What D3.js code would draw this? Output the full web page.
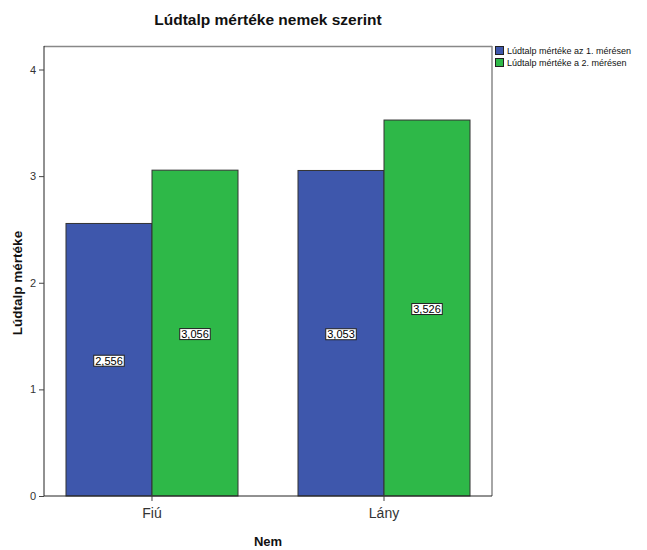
<!DOCTYPE html>
<html>
<head>
<meta charset="utf-8">
<script src="https://cdn.jsdelivr.net/npm/d3@7"></script>
<style>
  body { margin: 0; background: #fff; }
  svg { display: block; font-family: Arial, "Liberation Sans", sans-serif; }
</style>
</head>
<body>
<svg id="chart" width="647" height="550"></svg>
<script>
const categories = ["Fiú", "Lány"];
const seriesNames = ["Lúdtalp mértéke az 1. mérésen", "Lúdtalp mértéke a 2. mérésen"];
const measure1 = [2.556, 3.053];
const measure2 = [3.056, 3.526];
const yTicks = [0, 1, 2, 3, 4];
const colors = ["#3e57ac", "#2eb848"];
const title = "Lúdtalp mértéke nemek szerint";
const yTitle = "Lúdtalp mértéke";
const xTitle = "Nem";

const svg = d3.select("#chart");
const plot = { left: 44, right: 492, top: 46, bottom: 496 };

const x0 = d3.scaleBand().domain(categories).range([plot.left, plot.right])
  .paddingInner(0.2586).paddingOuter(0.0948);
const x1 = d3.scaleBand().domain([0, 1]).range([0, x0.bandwidth()]);
const y = d3.scaleLinear().domain([0, 4]).range([plot.bottom, 69.5]);

const fmt = v => d3.format(".3f")(v).replace(".", ",");

// title
svg.append("text").attr("x", 268).attr("y", 25).attr("text-anchor", "middle")
  .attr("font-size", 15.5).attr("font-weight", "bold").attr("fill", "#111").text(title);

// frame (top & right grey)
svg.append("line").attr("x1", plot.left).attr("x2", plot.right).attr("y1", plot.top + 0.5).attr("y2", plot.top + 0.5)
  .attr("stroke", "#888").attr("stroke-width", 1.5);
svg.append("line").attr("x1", plot.right).attr("x2", plot.right).attr("y1", plot.top).attr("y2", plot.bottom)
  .attr("stroke", "#888").attr("stroke-width", 1.5);

// bars
const data = categories.map((c, i) => ({ cat: c, vals: [measure1[i], measure2[i]] }));
const groups = svg.append("g").selectAll("g").data(data).join("g")
  .attr("transform", d => `translate(${x0(d.cat)},0)`);
groups.selectAll("rect").data(d => d.vals.map((v, k) => ({ v, k }))).join("rect")
  .attr("x", d => x1(d.k)).attr("width", x1.bandwidth())
  .attr("y", d => y(d.v)).attr("height", d => y(0) - y(d.v))
  .attr("fill", d => colors[d.k]).attr("stroke", "#333").attr("stroke-width", 1);

// value labels
groups.each(function(d) {
  const g = d3.select(this);
  d.vals.forEach((v, k) => {
    const cx = x1(k) + x1.bandwidth() / 2;
    const cy = (y(v) + y(0)) / 2 + 1;
    const lab = g.append("g");
    const t = lab.append("text").attr("x", cx).attr("y", cy + 4).attr("text-anchor", "middle")
      .attr("font-size", 11).attr("fill", "#000").text(fmt(v));
    const bb = t.node().getBBox();
    lab.insert("rect", "text").attr("x", bb.x - 1.5).attr("y", bb.y + 0.5).attr("width", bb.width + 3).attr("height", bb.height - 1)
      .attr("fill", "#fff").attr("stroke", "#222").attr("stroke-width", 1);
  });
});

// y axis
const yAxis = svg.append("g").attr("transform", `translate(${plot.left},0)`)
  .call(d3.axisLeft(y).tickValues(yTicks).tickSize(5).tickPadding(3).tickFormat(d3.format("d")));
yAxis.select(".domain").attr("stroke", "#222").attr("d", `M0,${plot.top}V${plot.bottom}`);
yAxis.selectAll(".tick line").attr("stroke", "#444");
yAxis.selectAll(".tick text").attr("font-size", 11).attr("fill", "#333").attr("font-family", "Arial, 'Liberation Sans', sans-serif");

// x axis
const xAxis = svg.append("g").attr("transform", `translate(0,${plot.bottom})`)
  .call(d3.axisBottom(x0).tickSize(6).tickPadding(6));
xAxis.select(".domain").attr("stroke", "#222").attr("d", `M${plot.left},0H${plot.right}`);
xAxis.selectAll(".tick line").attr("stroke", "#444").attr("transform", "translate(0,-1)");
xAxis.selectAll(".tick text").attr("font-size", 14).attr("fill", "#333").attr("font-family", "Arial, 'Liberation Sans', sans-serif");

// axis titles
svg.append("text").attr("transform", `translate(22,283) rotate(-90)`).attr("text-anchor", "middle")
  .attr("font-size", 13.5).attr("font-weight", "bold").attr("fill", "#111").text(yTitle);
svg.append("text").attr("x", 268).attr("y", 546).attr("text-anchor", "middle")
  .attr("font-size", 13).attr("font-weight", "bold").attr("fill", "#111").text(xTitle);

// legend
const leg = svg.append("g").attr("transform", "translate(495,46)");
seriesNames.forEach((s, i) => {
  leg.append("rect").attr("x", 0.5).attr("y", i * 12 + 0.5).attr("width", 8).attr("height", 8)
    .attr("fill", colors[i]).attr("stroke", "#222");
  leg.append("text").attr("x", 12).attr("y", i * 12 + 8).attr("font-size", 9).attr("fill", "#111").text(s);
});
</script>
</body>
</html>
